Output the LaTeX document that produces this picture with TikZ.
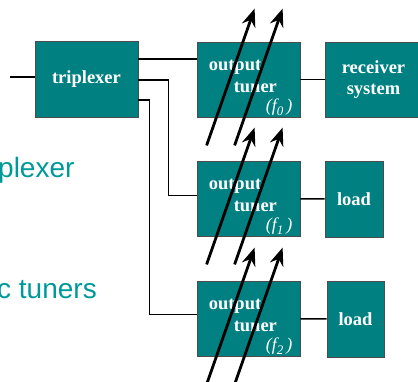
\documentclass[tikz,border=0pt]{standalone}
\usepackage{fontspec}
\setmainfont{Liberation Serif}
\newfontfamily\slidefont{Liberation Sans}
\usetikzlibrary{arrows.meta,positioning}
\tikzset{>={Stealth[length=18pt,width=14pt,inset=6pt]}}
\definecolor{boxteal}{RGB}{0,128,128}
\definecolor{slideteal}{RGB}{0,153,153}
\tikzset{
  block/.style={draw=black!70,line width=0.8pt,fill=boxteal,text=white,
    font=\fontsize{18.5}{21}\selectfont\bfseries,align=center,inner sep=0pt},
  lbl/.style={text=white,font=\fontsize{18.5}{21}\selectfont\bfseries,inner sep=0pt,anchor=base west},
  wire/.style={line width=1.5pt},
  tune/.style={->,line width=2.8pt}
}
\newcommand{\freq}[1]{\textit{(f\raisebox{-3.5pt}{\fontsize{13}{13}\selectfont #1}\,)}}

\begin{document}
\begin{tikzpicture}[x=1pt,y=-1pt]
  \pgfmathsetmacro{\tw}{103};
  \pgfmathsetmacro{\th}{75};
  \pgfmathsetmacro{\tx}{248.5};
  \useasboundingbox (0,0) rectangle (418,381);
  % slide text, cut at the left edge
  \node[text=slideteal,font=\slidefont\fontsize{28}{30}\selectfont,anchor=base west,inner sep=0pt]
    (txa) at (-2,177) {plexer};
  \node[text=slideteal,font=\slidefont\fontsize{28}{30}\selectfont,anchor=base west,inner sep=0pt]
    (txb) at (-3,298) {c tuners};
  % triplexer and tuners
  \node[block,minimum width=103pt,minimum height=76pt] (trip) at (86.5,79) {triplexer};
  \node[block,minimum width=\tw pt,minimum height=\th pt] (t0) at (\tx,79.5) {};
  \node[block,minimum width=\tw pt,minimum height=\th pt] (t1) at (\tx,198.5) {};
  \node[block,minimum width=\tw pt,minimum height=\th pt] (t2) at (\tx,318.5) {};
  \node[block,minimum width=97pt,minimum height=75pt] (rx) at (373.5,79.5) {receiver\\system};
  \node[block,minimum width=58pt,minimum height=76pt] (ld1) at (354,199) {load};
  \node[block,minimum width=57pt,minimum height=76pt] (ld2) at (355.5,319) {load};
  % tuner labels
  \foreach \t/\n in {t0/0,t1/1,t2/2} {
    \node[lbl] (\t a) at ([shift={(12,29)}]\t.north west) {output};
    \node[lbl] (\t b) at ([shift={(37,51)}]\t.north west) {tuner};
    \node[lbl,font=\fontsize{18}{21}\selectfont] (\t c) at ([shift={(69,70)}]\t.north west) {\freq{\n}};
  }
  % wiring
  \coordinate (in) at (10,77);
  \draw[wire] (in) -- (in -| trip.west);
  \draw[wire] ([yshift=20pt]trip.east) -- ([yshift=20pt]trip.east -| t0.west);
  \draw[wire] ([yshift=-1pt]trip.east) -- ++(30,0) |- ([yshift=3pt]t1.west);
  \draw[wire] ([yshift=-21pt]trip.east) -- ++(11,0) |- ([yshift=4pt]t2.west);
  \draw[wire] (t0) -- (rx);
  \draw[wire] (t1) -- (ld1);
  \draw[wire] (t2) -- (ld2);
  % tuning arrows
  \foreach \t in {t0,t1,t2} {
    \draw[tune] ([shift={(10,28)}]\t.south west) -- ([shift={(58,-33)}]\t.north west);
    \draw[tune] ([shift={(38,28)}]\t.south west) -- ([shift={(86,-33)}]\t.north west);
  }
\end{tikzpicture}
\end{document}
